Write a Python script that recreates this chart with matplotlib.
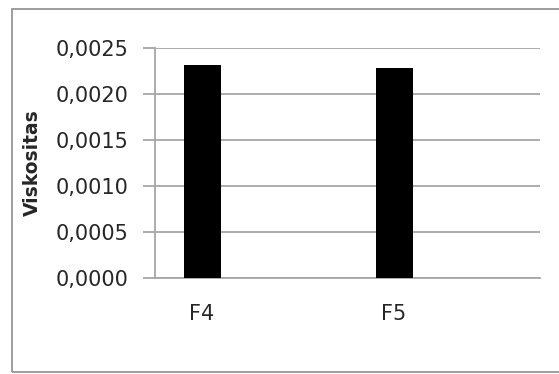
import matplotlib
matplotlib.use("Agg")
import matplotlib.pyplot as plt
from matplotlib.patches import Rectangle
from matplotlib.ticker import FuncFormatter

formulas = ["F4", "F5"]
viskositas = [0.00231, 0.00228]
y_ticks = [0.0, 0.0005, 0.0010, 0.0015, 0.0020, 0.0025]

plt.rcParams['font.family'] = ['DejaVu Sans']

fig = plt.figure(figsize=(5.59, 3.74), dpi=100)
ax = fig.add_axes([155/559, 1-278/374, 385/559, 230/374])

# Excel-like chart frame
fig.patches.append(Rectangle((12/559, 2/374), 1.0, 363/374, transform=fig.transFigure,
                             fill=False, edgecolor='#8c8c8c', linewidth=1.2))

xs = list(range(len(formulas)))
ax.bar(xs, viskositas, width=0.193, color='black', zorder=3)

ax.set_ylim(0, 0.0025)
ax.set_xlim(-0.245, 1.76)
ax.set_yticks(y_ticks)
ax.yaxis.set_major_formatter(FuncFormatter(lambda v, p: ('%.4f' % v).replace('.', ',')))
ax.set_xticks(xs)
ax.set_xticklabels(formulas)

ax.grid(axis='y', color='#a6a6a6', linewidth=1.3, zorder=0)
for s in ['top', 'right']:
    ax.spines[s].set_visible(False)
ax.spines['left'].set_color('#a6a6a6')
ax.spines['bottom'].set_color('#a6a6a6')
ax.spines['left'].set_linewidth(1.3)
ax.spines['bottom'].set_linewidth(1.3)

ax.tick_params(axis='y', length=9, width=1.3, color='#a6a6a6', pad=10,
               labelsize=15, labelcolor='#262626')
ax.tick_params(axis='x', length=0, pad=19, labelsize=15, labelcolor='#262626')

ax.set_ylabel('Viskositas', fontsize=13.5, fontweight='bold', color='#262626')
ax.yaxis.set_label_coords(-0.293, 0.5)

fig.savefig('out.png', dpi=100)
